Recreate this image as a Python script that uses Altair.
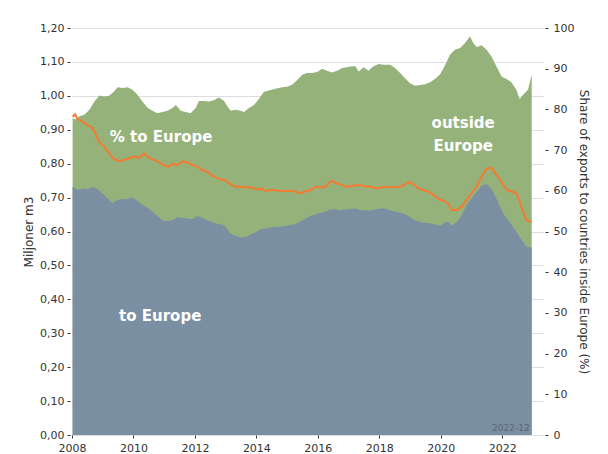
import altair as alt
import pandas as pd

# ---- data ----
total_years = [2008.02, 2008.13, 2008.24, 2008.40, 2008.56, 2008.73, 2008.89, 2009.05, 2009.21, 2009.37,
               2009.48, 2009.65, 2009.81, 2009.97, 2010.13, 2010.29, 2010.46, 2010.62, 2010.78, 2010.94,
               2011.11, 2011.27, 2011.38, 2011.54, 2011.70, 2011.86, 2012.03, 2012.13, 2012.30, 2012.46,
               2012.62, 2012.78, 2012.95, 2013.05, 2013.16, 2013.32, 2013.49, 2013.60, 2013.76, 2013.92,
               2014.08, 2014.24, 2014.41, 2014.62, 2014.84, 2015.00, 2015.16, 2015.33, 2015.49, 2015.65,
               2015.81, 2015.98, 2016.14, 2016.30, 2016.46, 2016.63, 2016.79, 2016.95, 2017.11, 2017.22,
               2017.33, 2017.49, 2017.65, 2017.81, 2017.98, 2018.14, 2018.35, 2018.51, 2018.68, 2018.84,
               2019.00, 2019.16, 2019.33, 2019.49, 2019.65, 2019.81, 2019.98, 2020.14, 2020.30, 2020.46,
               2020.63, 2020.79, 2020.95, 2021.06, 2021.17, 2021.33, 2021.49, 2021.65, 2021.81, 2021.98,
               2022.14, 2022.30, 2022.46, 2022.57, 2022.68, 2022.84, 2022.96]
total_vals = [0.934, 0.930, 0.940, 0.944, 0.958, 0.983, 1.001, 0.998, 1.000, 1.013,
              1.025, 1.023, 1.025, 1.018, 1.003, 0.983, 0.965, 0.956, 0.949, 0.952,
              0.956, 0.964, 0.973, 0.956, 0.952, 0.949, 0.965, 0.985, 0.985, 0.983,
              0.987, 0.995, 0.985, 0.970, 0.956, 0.959, 0.956, 0.952, 0.964, 0.973,
              0.991, 1.011, 1.016, 1.021, 1.025, 1.027, 1.033, 1.047, 1.062, 1.067,
              1.067, 1.070, 1.080, 1.074, 1.069, 1.074, 1.082, 1.084, 1.087, 1.087,
              1.072, 1.084, 1.074, 1.087, 1.094, 1.092, 1.092, 1.082, 1.067, 1.052,
              1.037, 1.030, 1.032, 1.034, 1.040, 1.050, 1.064, 1.090, 1.121, 1.136,
              1.141, 1.156, 1.175, 1.156, 1.143, 1.149, 1.136, 1.116, 1.087, 1.057,
              1.050, 1.040, 1.018, 0.991, 1.003, 1.018, 1.064]

europe_years = [2008.02, 2008.18, 2008.35, 2008.51, 2008.67, 2008.83, 2009.00, 2009.16, 2009.32, 2009.48,
                2009.65, 2009.81, 2009.97, 2010.13, 2010.29, 2010.46, 2010.62, 2010.78, 2010.94, 2011.11,
                2011.27, 2011.43, 2011.59, 2011.76, 2011.92, 2012.08, 2012.24, 2012.40, 2012.57, 2012.73,
                2012.89, 2013.00, 2013.16, 2013.32, 2013.49, 2013.65, 2013.81, 2013.97, 2014.14, 2014.30,
                2014.46, 2014.62, 2014.79, 2014.95, 2015.11, 2015.27, 2015.43, 2015.60, 2015.76, 2015.92,
                2016.08, 2016.25, 2016.41, 2016.57, 2016.73, 2016.90, 2017.06, 2017.22, 2017.38, 2017.55,
                2017.71, 2017.87, 2018.03, 2018.19, 2018.35, 2018.51, 2018.68, 2018.84, 2019.00, 2019.16,
                2019.33, 2019.49, 2019.65, 2019.81, 2019.98, 2020.14, 2020.25, 2020.35, 2020.52, 2020.68,
                2020.84, 2021.00, 2021.17, 2021.33, 2021.49, 2021.65, 2021.81, 2021.98, 2022.14, 2022.30,
                2022.46, 2022.63, 2022.79, 2022.96]
europe_vals = [0.732, 0.722, 0.727, 0.725, 0.732, 0.725, 0.712, 0.697, 0.683, 0.693,
               0.696, 0.696, 0.700, 0.690, 0.678, 0.670, 0.658, 0.646, 0.633, 0.630,
               0.633, 0.643, 0.640, 0.638, 0.636, 0.646, 0.640, 0.633, 0.628, 0.623,
               0.620, 0.614, 0.594, 0.587, 0.582, 0.584, 0.591, 0.597, 0.607, 0.609,
               0.612, 0.614, 0.614, 0.616, 0.619, 0.622, 0.629, 0.638, 0.646, 0.651,
               0.654, 0.659, 0.665, 0.666, 0.663, 0.665, 0.666, 0.668, 0.663, 0.663,
               0.662, 0.665, 0.668, 0.668, 0.663, 0.659, 0.655, 0.651, 0.643, 0.633,
               0.628, 0.626, 0.624, 0.621, 0.617, 0.628, 0.628, 0.617, 0.628, 0.648,
               0.678, 0.697, 0.717, 0.735, 0.740, 0.727, 0.697, 0.663, 0.638, 0.621,
               0.599, 0.575, 0.555, 0.552]

share_years = [2008.02, 2008.10, 2008.18, 2008.35, 2008.51, 2008.62, 2008.73, 2008.89, 2009.05, 2009.21,
               2009.37, 2009.54, 2009.70, 2009.86, 2010.02, 2010.19, 2010.35, 2010.51, 2010.67, 2010.84,
               2011.00, 2011.16, 2011.27, 2011.43, 2011.59, 2011.76, 2011.92, 2012.08, 2012.24, 2012.40,
               2012.57, 2012.73, 2012.89, 2013.00, 2013.16, 2013.32, 2013.49, 2013.65, 2013.81, 2013.97,
               2014.14, 2014.19, 2014.30, 2014.46, 2014.62, 2014.79, 2014.95, 2015.11, 2015.27, 2015.43,
               2015.60, 2015.76, 2015.92, 2016.08, 2016.25, 2016.35, 2016.46, 2016.63, 2016.79, 2016.95,
               2017.11, 2017.27, 2017.44, 2017.60, 2017.76, 2017.92, 2018.08, 2018.19, 2018.35, 2018.51,
               2018.68, 2018.84, 2018.95, 2019.11, 2019.27, 2019.43, 2019.60, 2019.76, 2019.92, 2020.08,
               2020.25, 2020.35, 2020.52, 2020.68, 2020.84, 2021.00, 2021.17, 2021.33, 2021.49, 2021.65,
               2021.81, 2021.98, 2022.14, 2022.30, 2022.46, 2022.57, 2022.68, 2022.79, 2022.96]
share_vals = [78.2, 78.8, 77.6, 77.0, 76.0, 75.8, 74.5, 71.9, 70.8, 69.2,
              67.8, 67.3, 67.6, 68.0, 68.4, 68.1, 69.2, 68.1, 67.6, 67.0,
              66.2, 65.9, 66.7, 66.3, 67.2, 67.0, 66.3, 65.9, 65.1, 64.7,
              63.7, 63.1, 62.7, 62.6, 61.6, 61.0, 61.0, 60.8, 60.9, 60.4,
              60.4, 60.6, 59.9, 60.2, 60.2, 59.9, 60.0, 60.0, 59.8, 59.4,
              59.9, 60.2, 61.0, 60.8, 61.0, 61.8, 62.5, 61.8, 61.4, 61.0,
              61.2, 61.4, 61.3, 61.0, 61.0, 60.6, 60.9, 61.0, 60.9, 60.9,
              61.0, 61.6, 62.2, 61.6, 60.6, 60.2, 59.8, 59.0, 58.1, 57.5,
              56.9, 55.3, 55.3, 56.1, 57.7, 59.4, 61.0, 63.5, 65.4, 65.7,
              63.9, 62.2, 60.2, 59.9, 59.4, 57.3, 54.9, 52.8, 52.3]

label_texts = ["% to Europe", "to Europe", "outside", "Europe"]
label_years = [2010.90, 2010.87, 2020.73, 2020.73]
label_vals = [0.878, 0.351, 0.920, 0.852]

stamp_text = ["2022-12"]
stamp_year = [2022.96]
stamp_val = [0.021]

x_ticks = [2008, 2010, 2012, 2014, 2016, 2018, 2020, 2022]
left_ticks = [0.0, 0.1, 0.2, 0.3, 0.4, 0.5, 0.6, 0.7, 0.8, 0.9, 1.0, 1.1, 1.2]
right_ticks = [0, 10, 20, 30, 40, 50, 60, 70, 80, 90, 100]

# ---- tables ----
total_df = pd.DataFrame({"year": total_years, "value": total_vals})
europe_df = pd.DataFrame({"year": europe_years, "value": europe_vals})
share_df = pd.DataFrame({"year": share_years, "share": share_vals})
label_df = pd.DataFrame({"year": label_years, "value": label_vals, "text": label_texts})
stamp_df = pd.DataFrame({"year": stamp_year, "value": stamp_val, "text": stamp_text})

FONT = "DejaVu Sans"
GREEN = "#95b27b"
BLUE = "#7b8fa3"
ORANGE = "#f47b2f"
TEXT = "#333333"

x_scale = alt.Scale(domain=[2008, 2023.36], nice=False, zero=False)
y_scale = alt.Scale(domain=[0, 1.2], nice=False)
pct_scale = alt.Scale(domain=[0, 100], nice=False)

x_axis = alt.Axis(values=x_ticks, format="d", title=None, grid=False, domain=False,
                  tickSize=3, tickColor=TEXT, labelColor=TEXT, labelFontSize=11,
                  labelFont=FONT, labelPadding=4, labelFlush=False, labelOverlap=False)

left_axis = alt.Axis(values=left_ticks, tickCount=13,
                     labelExpr="replace(format(datum.value, '.2f'), '.', ',')",
                     title="Miljoner m3", titleFont=FONT, titleFontSize=12,
                     titleFontWeight="normal", titleColor=TEXT, titlePadding=4,
                     grid=True, gridColor="#dddddd", gridWidth=1, domain=False,
                     tickSize=3, tickColor=TEXT, offset=2,
                     labelColor=TEXT, labelFontSize=11, labelFont=FONT, labelPadding=3,
                     labelOverlap=False, labelFlush=False)


def xe():
    return alt.X("year:Q", scale=x_scale, axis=x_axis)


def ye():
    return alt.Y("value:Q", scale=y_scale, axis=left_axis)


total_area = alt.Chart(total_df).mark_area(color=GREEN, opacity=1).encode(x=xe(), y=ye())

europe_area = alt.Chart(europe_df).mark_area(color=BLUE, opacity=1).encode(x=xe(), y=ye())

labels = alt.Chart(label_df).mark_text(
    color="white", font=FONT, fontSize=15, fontWeight="bold", align="center", baseline="middle"
).encode(x=xe(), y=ye(), text="text:N")

stamp = alt.Chart(stamp_df).mark_text(
    color="#5a6673", font=FONT, fontSize=9, align="right", baseline="middle", dx=-2
).encode(x=xe(), y=ye(), text="text:N")

left_layer = alt.layer(total_area, europe_area, labels, stamp)

share_line = alt.Chart(share_df).mark_line(color=ORANGE, strokeWidth=2).encode(
    x=xe(),
    y=alt.Y("share:Q", scale=pct_scale,
            axis=alt.Axis(orient="right", values=right_ticks, grid=False, domain=False,
                          tickSize=3, tickColor=TEXT, offset=1,
                          labelColor=TEXT, labelFontSize=11, labelFont=FONT, labelPadding=5,
                          labelOverlap=False, labelFlush=False,
                          title="Share of exports to countries inside Europe (%)",
                          titleFont=FONT, titleFontSize=12, titleFontWeight="normal",
                          titleColor=TEXT, titlePadding=3)))

chart = alt.layer(left_layer, share_line).resolve_scale(y="independent").properties(
    width=472, height=407,
    autosize=alt.AutoSizeParams(type="none"),
    padding={"left": 64, "top": 20, "right": 56, "bottom": 18},
    background="white",
).configure_view(stroke=None)

chart.save("out.html", embed_options={"renderer": "svg", "actions": False})
